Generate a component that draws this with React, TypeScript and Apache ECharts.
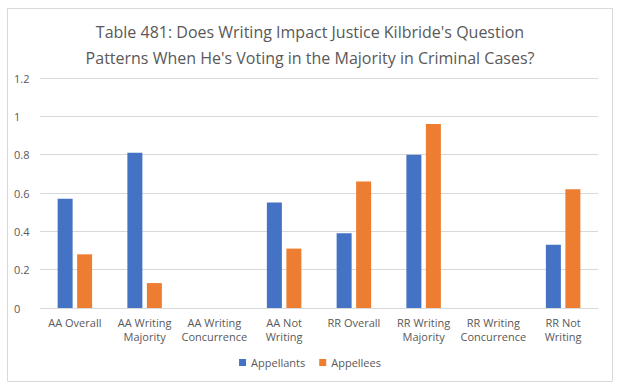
import React, { useEffect, useRef } from "react";
import * as echarts from "echarts";

const categories = [
  "AA Overall",
  "AA Writing\nMajority",
  "AA Writing\nConcurrence",
  "AA Not\nWriting",
  "RR Overall",
  "RR Writing\nMajority",
  "RR Writing\nConcurrence",
  "RR Not\nWriting",
];
const appellants = [0.57, 0.81, 0, 0.55, 0.39, 0.8, 0, 0.33];
const appellees = [0.28, 0.13, 0, 0.31, 0.66, 0.96, 0, 0.62];
const titleText =
  "Table 481: Does Writing Impact Justice Kilbride's Question\nPatterns When He's Voting in the Majority in Criminal Cases?";

const FONT = "'Open Sans', 'Noto Sans', sans-serif";

export default function App() {
  const ref = useRef<HTMLDivElement>(null);
  useEffect(() => {
    if (!ref.current) return;
    const chart = echarts.init(ref.current, null, { renderer: "svg" });
    chart.setOption({
      animation: false,
      backgroundColor: "#ffffff",
      textStyle: { fontFamily: FONT },
      title: {
        text: titleText,
        left: "center",
        top: 14,
        textStyle: {
          fontFamily: FONT,
          fontSize: 16,
          fontWeight: "normal",
          color: "#595959",
          lineHeight: 26,
        },
      },
      graphic: [
        {
          type: "rect",
          shape: { x: 7.5, y: 8.5, width: 605, height: 373 },
          style: { fill: "none", stroke: "#d9d9d9", lineWidth: 1 },
          silent: true,
        },
      ],
      legend: {
        bottom: 17,
        left: "center",
        itemWidth: 7,
        itemHeight: 7,
        itemGap: 14,
        icon: "rect",
        textStyle: { fontFamily: FONT, fontSize: 11, color: "#595959" },
        data: ["Appellants", "Appellees"],
      },
      grid: { left: 40, right: 22, top: 78, bottom: 82, containLabel: false },
      xAxis: {
        type: "category",
        data: categories,
        axisLine: { lineStyle: { color: "#d9d9d9" } },
        axisTick: { show: false },
        axisLabel: {
          interval: 0,
          fontFamily: FONT,
          fontSize: 11,
          color: "#595959",
          lineHeight: 14,
          margin: 7,
        },
      },
      yAxis: {
        type: "value",
        min: 0,
        max: 1.2,
        interval: 0.2,
        axisLine: { show: false },
        axisTick: { show: false },
        splitLine: { lineStyle: { color: "#d9d9d9" } },
        axisLabel: {
          fontFamily: FONT,
          fontSize: 11,
          color: "#595959",
          margin: 26,
          align: "left",
          formatter: (v: number) => String(Math.round(v * 10) / 10),
        },
      },
      series: [
        {
          name: "Appellants",
          type: "bar",
          data: appellants,
          barWidth: 15,
          barGap: "30%",
          itemStyle: { color: "#4472C4" },
        },
        {
          name: "Appellees",
          type: "bar",
          data: appellees,
          barWidth: 15,
          itemStyle: { color: "#ED7D31" },
        },
      ],
    });
    return () => chart.dispose();
  }, []);
  return (
    <div
      ref={ref}
      style={{ position: "absolute", left: 0, top: 0, width: 620, height: 390 }}
    />
  );
}
